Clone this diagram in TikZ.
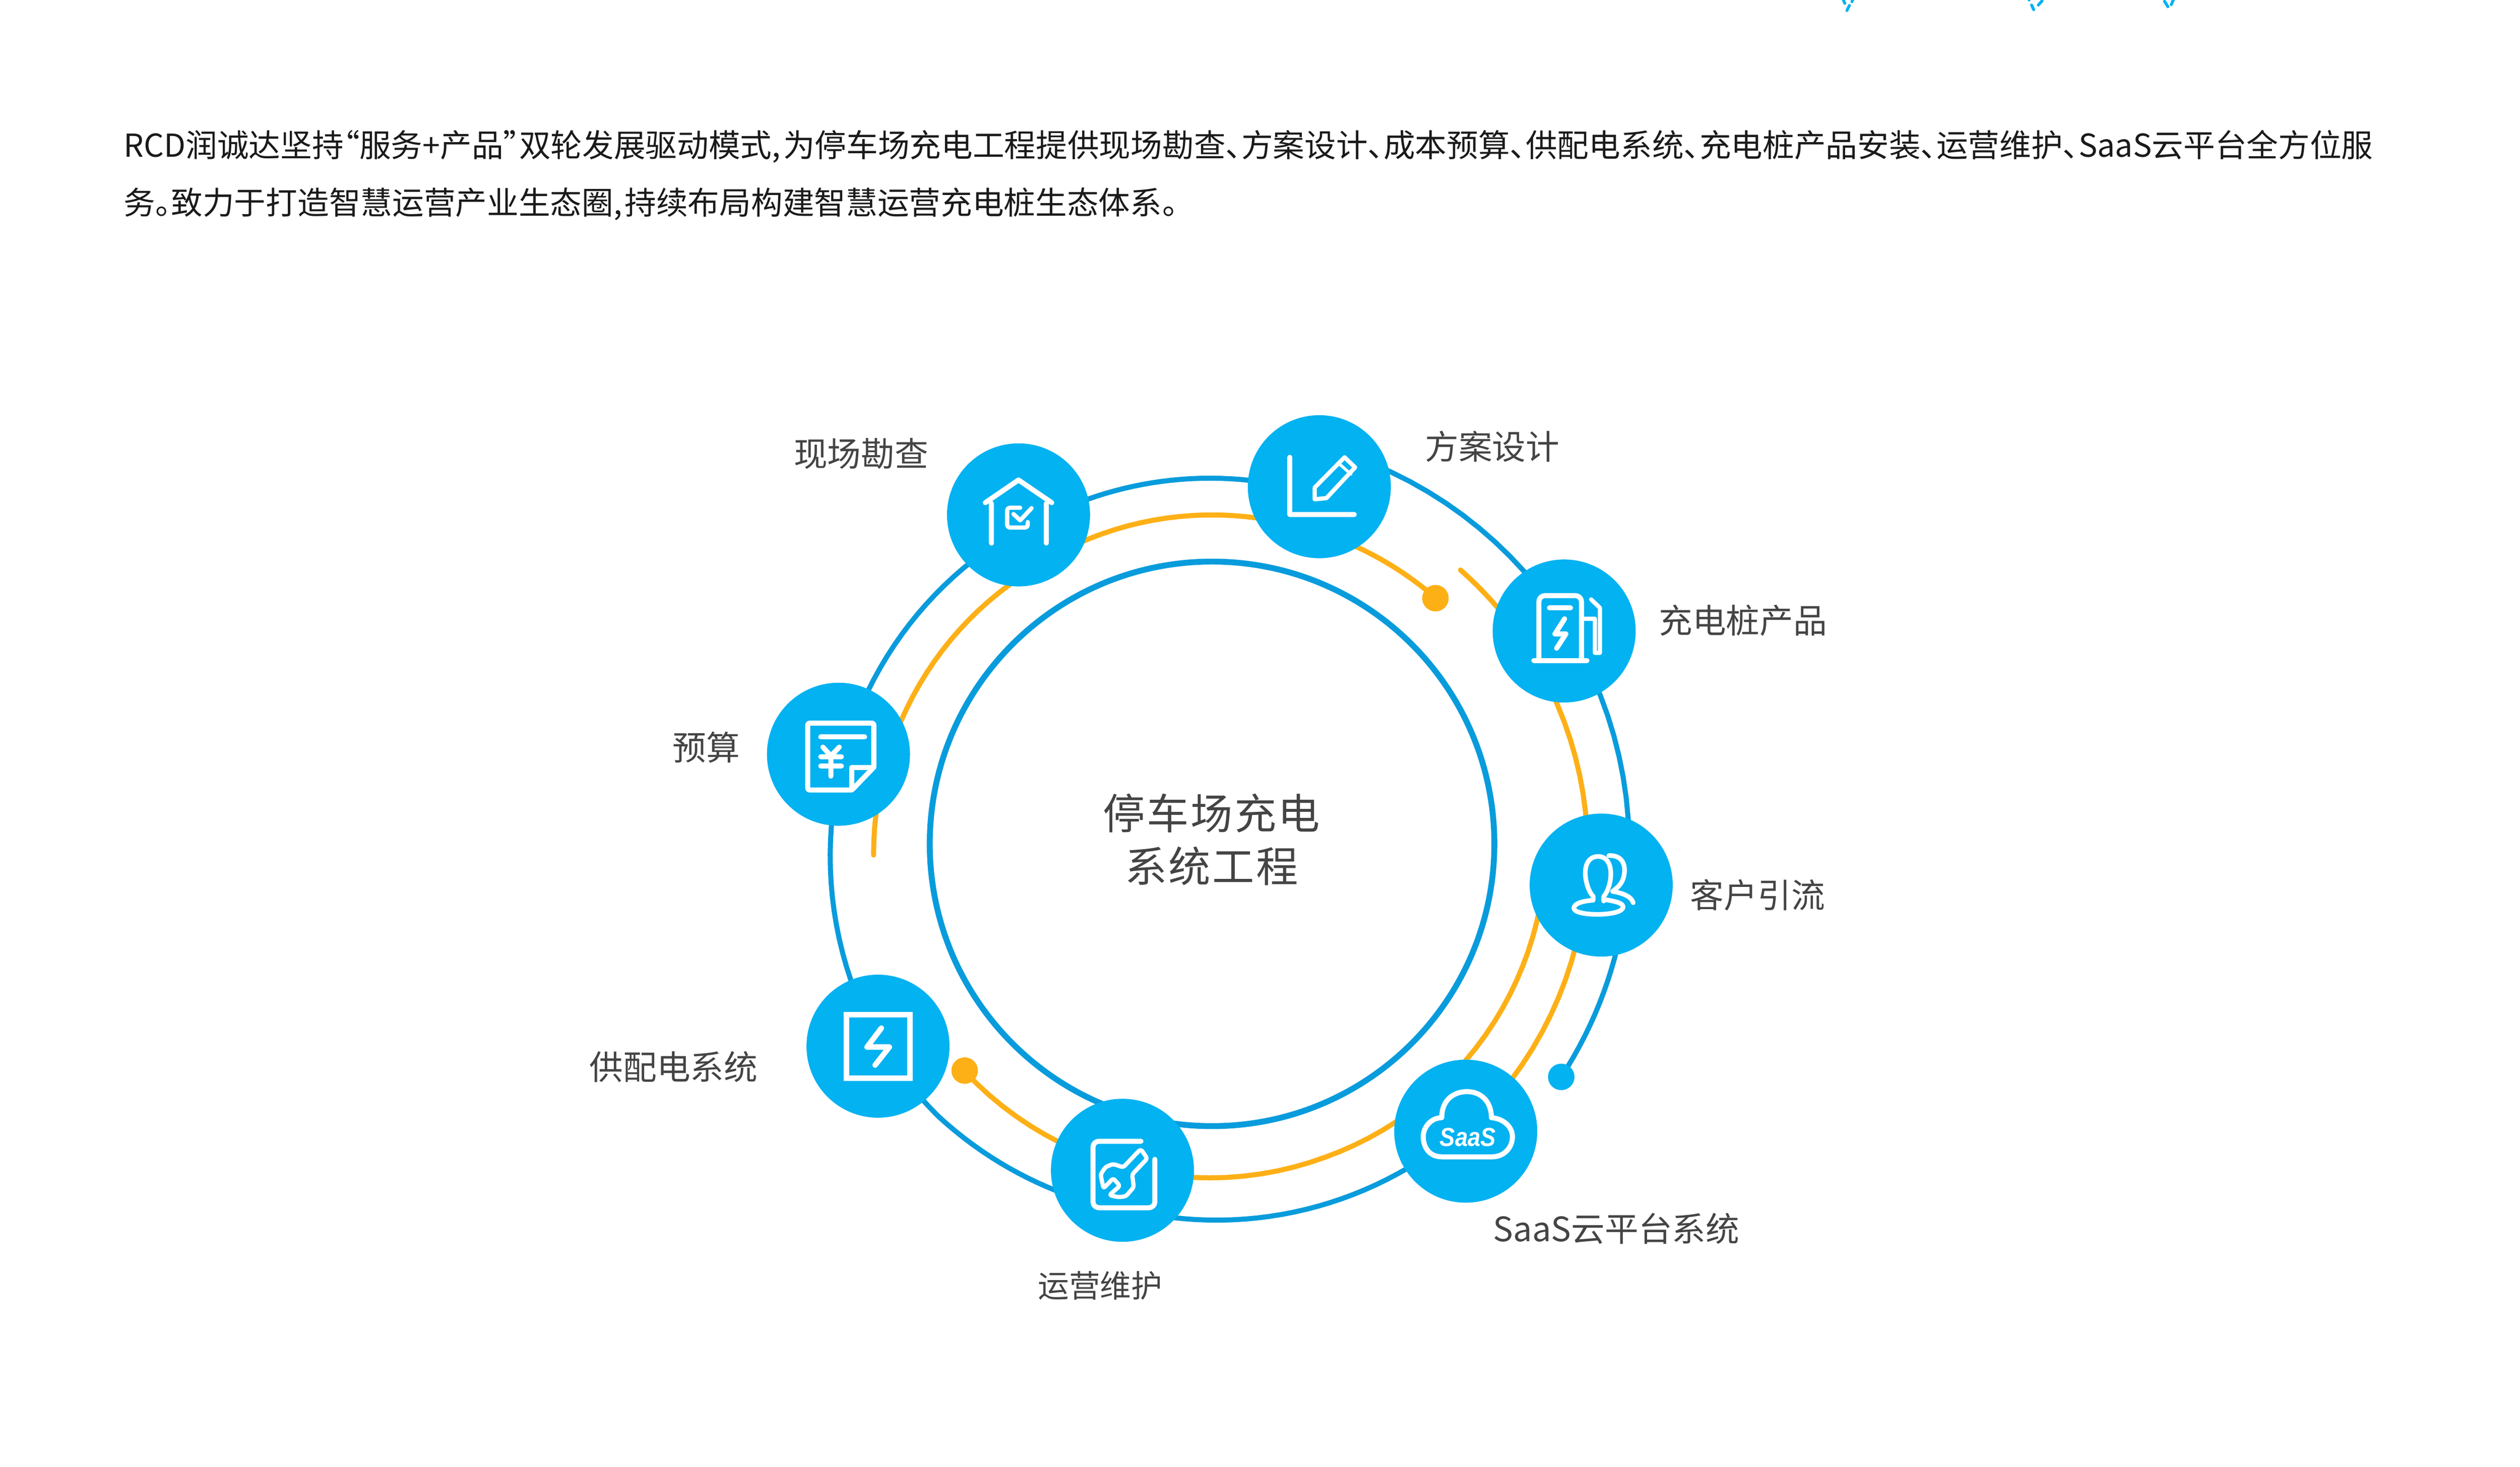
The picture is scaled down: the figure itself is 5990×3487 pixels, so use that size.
\documentclass[tikz,border=0pt]{standalone}
\usepackage{fontspec}
\setmainfont{Noto Sans CJK SC}
\newfontfamily\bodyfont[RawFeature={+palt}]{Noto Sans CJK SC}
\newfontfamily\saasfont{Liberation Sans}
\definecolor{disc}{HTML}{03B2F1}
\definecolor{ringblue}{HTML}{089CDC}
\definecolor{ringyellow}{HTML}{FDB016}
\definecolor{labelgrey}{HTML}{444444}
\definecolor{bodygrey}{HTML}{1A1A1A}
% one piece of a ring: from angle #1 at radius #2 to angle #3 at radius #4
\newcommand\ringpiece[4]{plot[domain=#1:#3,samples=24,variable=\t] (\t:{#2+(#4-#2)*(\t-(#1))/((#3)-(#1))})}
\newcommand\ringnext[4]{-- plot[domain=#1:#3,samples=24,variable=\t] (\t:{#2+(#4-#2)*(\t-(#1))/((#3)-(#1))})}
\tikzset{
  ringB/.style={draw=ringblue,line width=12pt,line cap=round,line join=round},
  ringY/.style={draw=ringyellow,line width=12pt,line cap=round,line join=round},
  disc node/.style={circle,fill=disc,minimum size=340pt,inner sep=0pt},
  ydot/.style={circle,fill=ringyellow,minimum size=63pt,inner sep=0pt},
  bdot/.style={circle,fill=disc,minimum size=63pt,inner sep=0pt},
  icon/.style={draw=white,line width=12pt,line cap=round,line join=round,fill=none},
  lab/.style={text=labelgrey,font=\fontsize{80}{96}\selectfont,inner sep=0pt},
  bodyline/.style={text=bodygrey,font=\bodyfont\fontsize{75.1}{90}\selectfont,anchor=west,inner sep=0pt},
  frag/.style={draw=disc,line width=7pt,line cap=round}
}
\begin{document}
\begin{tikzpicture}[x=1pt,y=-1pt]
\useasboundingbox (0,0) rectangle (5990,3487);
\fill[white] (0,0) rectangle (5990,3487);
% clipped fragments at the top edge
\begin{scope}
\clip (0,0) rectangle (5990,3487);
\draw[frag] (4380,-4)--(4385,8) (4396,13)--(4390,25) (4405,-4)--(4402,4);
\draw[frag] (4854,2)--(4845,12) (4829,12)--(4834,23) (4823,-3)--(4823,0);
\draw[frag] (5145,3)--(5153,16) (5167,-3)--(5161,11);
\end{scope}
% body text
\node[bodyline] (t1) at (294,348) {RCD润诚达坚持“服务+产品”双轮发展驱动模式,\kern6pt 为停车场充电工程提供现场勘查、方案设计、成本预算、供配电系统、充电桩产品安装、运营维护、SaaS云平台全方位服};
\node[bodyline] (t2) at (294,485) {务。致力于打造智慧运营产业生态圈,\kern6pt 持续布局构建智慧运营充电桩生态体系。};
% rings
\coordinate (C) at (2881,2006);
\begin{scope}[shift={(2881,2006)},y=1pt]
\draw[draw=ringblue,line width=14pt] (0,0) circle[radius=671];
% outer blue, right part
\draw[ringB] \ringpiece{-33.7}{998}{3.5}{991} \ringnext{3.5}{991}{70}{980};
% outer blue, left and bottom
\draw[ringB] \ringpiece{75}{868}{110}{871} \ringnext{110}{871}{156}{895} \ringnext{156}{895}{205}{920} \ringnext{205}{920}{225}{918} \ringnext{225}{918}{262}{893} \ringnext{262}{893}{305}{901};
% yellow 1, from the end near the estimate disc over the top to the dot
\draw[ringY] \ringpiece{181.9}{805}{128}{782} \ringnext{128}{782}{75}{782} \ringnext{75}{782}{47.7}{790};
% yellow 2
\draw[ringY] \ringpiece{47.8}{879}{22}{885} \ringnext{22}{885}{-44}{908};
% yellow 3
\draw[ringY] \ringpiece{-8}{794}{-70}{792} \ringnext{-70}{792}{-137.5}{799};
\end{scope}
% small dots
\node[ydot] (d1) at (3412,1422) {};
\node[ydot] (d2) at (2293,2545) {};
\node[bdot] (d3) at (3711,2560) {};
% discs
\node[disc node] (survey) at (2421,1224) {};
\node[disc node] (budget) at (1993,1793) {};
\node[disc node] (plan) at (3136,1157) {};
\node[disc node] (pile) at (3718,1500) {};
\node[disc node] (client) at (3806,2104) {};
\node[disc node] (saas) at (3484,2689) {};
\node[disc node] (ops) at (2668,2782) {};
\node[disc node] (power) at (2087,2487) {};
% house
\begin{scope}[shift={(survey.center)}]
\draw[icon] (-79,-29)--(0,-83)--(79,-29);
\draw[icon] (-64,-27)--(-64,67) (66,-27)--(66,67);
\draw[icon,line width=10pt,rounded corners=6pt] (4,-17)--(-27,-17)--(-27,30)--(22,30)--(22,17);
\draw[icon,line width=10pt] (-12,-2)--(4,13)--(31,-16);
\end{scope}
% yuan document
\begin{scope}[shift={(budget.center)}]
\draw[icon,rounded corners=4pt] (-73,-74)--(84,-74)--(84,31)--(32,85)--(-73,85)--cycle;
\draw[icon] (32,85)--(32,31)--(84,31);
\draw[icon] (-42,-41)--(62,-41);
\draw[icon] (-37,-17)--(-18,4)--(2,-17) (-42,6)--(7,6) (-42,28)--(7,28) (-18,4)--(-18,52);
\end{scope}
% pen and axes
\begin{scope}[shift={(plan.center)}]
\draw[icon] (-70,-70)--(-70,66)--(83,66);
\draw[icon,line width=10pt] (-11,30)--(-11,2)--(60,-70)--(85,-46)--(17,27)--cycle;
\draw[icon,line width=7pt] (50,-52)--(75,-30);
\end{scope}
% charging pile
\begin{scope}[shift={(pile.center)}]
\draw[icon,rounded corners=14pt] (-60,70)--(-60,-84)--(41,-84)--(41,70);
\draw[icon] (-72,70)--(54,70);
\draw[icon] (-35,-55)--(15,-55);
\draw[icon] (1,-29)--(-22,7)--(4,7)--(-18,41);
\draw[icon,line width=10pt] (44,-29)--(73,-29)--(73,52)--(85,52)--(85,-55)--(64,-75);
\end{scope}
% person
\begin{scope}[shift={(client.center)}]
\draw[icon,line width=11pt] (-19,27) .. controls (-40,5) and (-52,-68) .. (-7,-68) .. controls (33,-68) and (28,0) .. (6,27) -- (6,38);
\draw[icon,line width=11pt] (-19,27) -- (-19,36) .. controls (-45,38) and (-65,44) .. (-65,55) .. controls (-65,75) and (52,75) .. (52,52) .. controls (52,42) and (30,38) .. (6,34);
\draw[icon,line width=11pt] (18,-70) .. controls (48,-72) and (60,-50) .. (54,-22) .. controls (50,-2) and (38,6) .. (27,15) .. controls (55,20) and (72,28) .. (76,42);
\end{scope}
% cloud
\begin{scope}[shift={(saas.center)}]
\draw[icon] (-57,-32) .. controls (-57,-75) and (-28,-94) .. (3,-94) .. controls (35,-94) and (61,-72) .. (61,-32) .. controls (90,-30) and (111,-10) .. (111,13) .. controls (111,40) and (90,61) .. (63,61) -- (-57,61) .. controls (-85,61) and (-101,40) .. (-101,13) .. controls (-101,-10) and (-82,-32) .. (-57,-32);
\node[text=white,xscale=.88,font=\saasfont\bfseries\itshape\fontsize{62}{64}\selectfont,inner sep=0pt] (saastxt) at (5,15) {SaaS};
\end{scope}
% wrench and box
\begin{scope}[shift={(ops.center)}]
\draw[icon,rounded corners=14pt] (44,-69)--(-70,-69)--(-70,89)--(77,89)--(77,-26);
\draw[icon,line width=10pt,rounded corners=5pt] (36,-43)--(44,-50)--(59,-28)--(23,10)--(27,40)--(8,62)--(-10,64)--(-31,59)--(-6,37)--(-22,19)--(-45,43)--(-52,10)--(-40,-8)--(-22,-15)--(2,-7)--cycle;
\end{scope}
% lightning box
\begin{scope}[shift={(power.center)}]
\draw[icon,line cap=butt,line join=miter,line width=14pt] (-75,-75) rectangle (76,76);
\draw[icon,line width=13pt] (8,-43)--(-26,2)--(27,2)--(-7,45);
\end{scope}
% labels
\node[lab] (l1) at (2047,1078) {现场勘查};
\node[lab] (l2) at (1679,1777) {预算};
\node[lab] (l3) at (3547,1061) {方案设计};
\node[lab] (l4) at (4143,1475) {充电桩产品};
\node[lab] (l5) at (4178,2128) {客户引流};
\node[lab] (l6) at (3842,2921) {SaaS云平台系统};
\node[lab,font=\fontsize{74}{90}\selectfont] (l7) at (2615,3056) {运营维护};
\node[lab] (l8) at (1601,2536) {供配电系统};
\node[text=labelgrey,font=\fontsize{100}{126}\selectfont,align=center,inner sep=0pt] (centre) at (2880,1996) {\addfontfeature{LetterSpace=4}停车场充电\\\addfontfeature{LetterSpace=4}系统工程};
\end{tikzpicture}
\end{document}
